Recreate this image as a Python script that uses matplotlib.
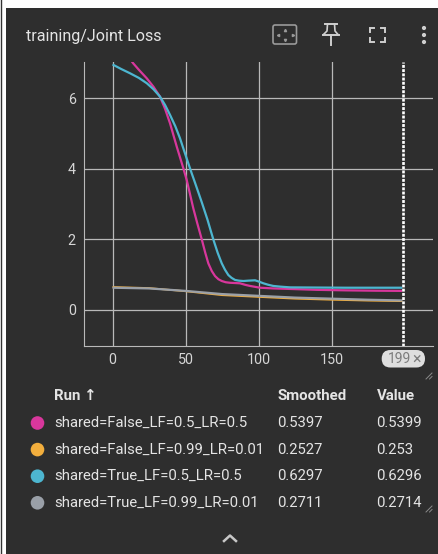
import matplotlib
matplotlib.use('Agg')
import matplotlib.pyplot as plt
from matplotlib.patches import Rectangle, FancyBboxPatch, Circle

W, H = 438, 554
BG = '#2e2e2e'
GRID = '#b9b9b9'
TXT = '#e4e4e4'

pink_x = [12, 14.2, 18, 23.4, 28, 32.5, 36, 39.4, 44, 48.5, 50.8, 55.3, 58, 61.1, 63.5, 65.6, 68, 70.2, 72.5, 74.8, 77.5, 80.5, 87.3, 91, 94.2, 101, 110, 121.6, 140, 160, 180, 198.5]
pink_y = [7.1, 6.98, 6.80, 6.56, 6.32, 6.04, 5.69, 5.28, 4.62, 4.01, 3.68, 2.88, 2.46, 2.00, 1.62, 1.32, 1.10, 0.96, 0.87, 0.82, 0.785, 0.77, 0.755, 0.71, 0.68, 0.63, 0.61, 0.595, 0.57, 0.555, 0.545, 0.54]
teal_x = [0, 6, 12, 18, 23.4, 28, 32.5, 36, 39.4, 43, 46.2, 49, 51.9, 54.2, 56.5, 61.1, 65, 69, 72, 74.8, 77, 79.3, 81.5, 83.9, 86.5, 89.6, 93, 97.6, 100.5, 103.3, 106.5, 110.1, 115, 121.6, 140, 160, 180, 198.5]
teal_y = [6.95, 6.82, 6.70, 6.57, 6.42, 6.25, 6.04, 5.80, 5.52, 5.20, 4.86, 4.51, 4.15, 3.87, 3.60, 3.05, 2.56, 2.00, 1.62, 1.32, 1.14, 0.99, 0.91, 0.85, 0.83, 0.82, 0.83, 0.84, 0.80, 0.755, 0.715, 0.68, 0.66, 0.64, 0.635, 0.63, 0.63, 0.63]
orange_x = [0, 25, 50, 75, 100, 125, 150, 175, 198.5]
orange_y = [0.65, 0.62, 0.53, 0.42, 0.37, 0.32, 0.29, 0.265, 0.25]
grey_x = [0, 25, 50, 75, 100, 125, 150, 175, 198.5]
grey_y = [0.63, 0.61, 0.54, 0.45, 0.40, 0.35, 0.32, 0.29, 0.27]

xticks = [0, 50, 100, 150]
yticks = [0, 2, 4, 6]
step_mark = 199

runs = ['shared=False_LF=0.5_LR=0.5', 'shared=False_LF=0.99_LR=0.01', 'shared=True_LF=0.5_LR=0.5', 'shared=True_LF=0.99_LR=0.01']
smoothed = ['0.5397', '0.2527', '0.6297', '0.2711']
values = ['0.5399', '0.253', '0.6296', '0.2714']
colors = ['#d8379c', '#f2ae3d', '#4db6d0', '#9aa0a8']

plt.rcParams['font.family'] = ['Roboto', 'DejaVu Sans']

fig = plt.figure(figsize=(W / 100, H / 100), dpi=100, facecolor='white')

# page layer in pixel coordinates (y down)
bg = fig.add_axes([0, 0, 1, 1])
bg.set_xlim(0, W)
bg.set_ylim(H, 0)
bg.axis('off')
bg.add_patch(Rectangle((6, 8), W - 6, H - 8, fc=BG, ec='none'))
bg.plot([0.5, 0.5], [0, H], color='#333333', lw=1)

bg.text(26, 36, 'training/Joint Loss', color=TXT, fontsize=11.6, va='center', ha='left')

# toolbar icons
ic = '#9a9a9a'
bg.add_patch(FancyBboxPatch((273, 25), 23.5, 19, boxstyle='round,pad=0,rounding_size=2', fc='none', ec=ic, lw=1.2))
bg.plot([285], [29.5], marker='^', ms=1.6, color=ic)
bg.plot([285], [40], marker='v', ms=1.6, color=ic)
bg.plot([277.5], [34.5], marker='<', ms=1.6, color=ic)
bg.plot([292.5], [34.5], marker='>', ms=1.6, color=ic)
pin = '#cfcfcf'
bg.plot([324.5, 337], [24.2, 24.2], color=pin, lw=1.4)
bg.plot([327.5, 327, 323.5], [24, 31, 34.5], color=pin, lw=1.2)
bg.plot([334.5, 335, 338], [24, 31, 34.5], color=pin, lw=1.2)
bg.plot([323, 338.5], [34.8, 34.8], color=pin, lw=1.4)
bg.plot([331, 331], [35, 45], color=pin, lw=1.4)
for sx, sy in [(370, 28), (385, 28), (370, 42), (385, 42)]:
    dx = 4 if sx == 370 else -4
    dy = 4 if sy == 28 else -4
    bg.plot([sx + dx, sx, sx], [sy, sy, sy + dy], color=pin, lw=1.4, solid_joinstyle='miter')
for dy in [28, 35, 42]:
    bg.add_patch(Circle((424, dy), 2.1, fc=pin, ec='none'))

# chart
ax = fig.add_axes([83.5 / W, 1 - 346 / H, (433 - 83.5) / W, (346 - 62) / H], facecolor=BG)
ax.set_xlim(-19.9, 219.5)
ax.set_ylim(-1.02, 7.02)
for s in ['top', 'right']:
    ax.spines[s].set_visible(False)
ax.spines['left'].set_color(GRID)
ax.spines['bottom'].set_color(GRID)
ax.spines['left'].set_linewidth(0.8)
ax.spines['bottom'].set_linewidth(0.8)
ax.set_xticks(xticks)
ax.set_yticks(yticks)
ax.tick_params(length=0, colors='#d6d6d6', labelsize=10.3)
ax.tick_params(axis='x', pad=5)
ax.tick_params(axis='y', pad=5.5)
ax.grid(True, color=GRID, lw=0.9)
ax.set_axisbelow(True)

ax.plot(orange_x, orange_y, color=colors[1], lw=1.3, solid_capstyle='butt')
ax.plot(pink_x, pink_y, color=colors[0], lw=1.6, solid_capstyle='butt')
ax.plot(teal_x, teal_y, color=colors[2], lw=1.6, solid_capstyle='butt')
ax.plot(grey_x, grey_y, color=colors[3], lw=1.6, solid_capstyle='butt')
ax.axvline(step_mark, color='white', lw=1.9, ls=(0, (1.1, 0.5)))

# step pill
bg.add_patch(FancyBboxPatch((381.7, 350), 43.3, 17.5, boxstyle='round,pad=0,rounding_size=8.7', fc='#dedede', ec='none'))
bg.text(399.5, 359.3, str(step_mark), color='#7d7d7d', fontsize=10, ha='center', va='center')
bg.text(416.5, 359, '\u00d7', color='#7d7d7d', fontsize=11.5, ha='center', va='center')

# resize handles
for hx, hy in [(432, 379), (432, 512)]:
    bg.plot([hx - 6, hx], [hy, hy - 6], color='#8a8a8a', lw=0.7)
    bg.plot([hx - 2.5, hx], [hy, hy - 2.5], color='#8a8a8a', lw=0.7)

# run table
bg.text(54.5, 395.5, 'Run \u2191', color=TXT, fontsize=10.8, fontweight='bold', va='center', ha='left')
bg.text(278, 395.5, 'Smoothed', color=TXT, fontsize=10.8, fontweight='bold', va='center', ha='left')
bg.text(377, 395.5, 'Value', color=TXT, fontsize=10.8, fontweight='bold', va='center', ha='left')
for i, run in enumerate(runs):
    y = 423 + i * 26.6
    bg.add_patch(Circle((37.5, y), 6.8, fc=colors[i], ec='none'))
    bg.text(54, y, run, color=TXT, fontsize=10.75, va='center', ha='left')
    bg.text(277, y, smoothed[i], color=TXT, fontsize=10.75, va='center', ha='left')
    bg.text(376, y, values[i], color=TXT, fontsize=10.75, va='center', ha='left')

# collapse chevron
bg.plot([224, 230, 236], [541, 535.5, 541], color='#c8c8c8', lw=1.8)

fig.savefig('out.png', dpi=100, facecolor=fig.get_facecolor())
